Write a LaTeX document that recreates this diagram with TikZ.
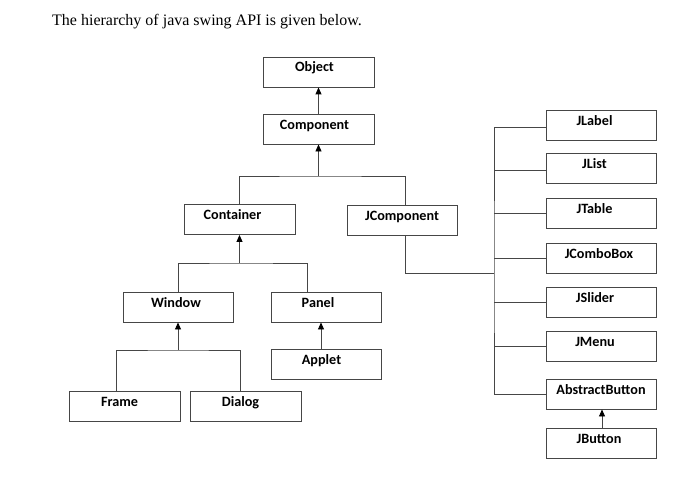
\documentclass[tikz,border=0pt]{standalone}
\usepackage{fontspec}
\setmainfont{Liberation Serif}
\newfontfamily\boxfont{Carlito}
\usetikzlibrary{arrows.meta}
\definecolor{lc}{RGB}{70,70,70}
\newcommand\lft[2]{#2\hspace*{#1pt}}
\begin{document}
\begin{tikzpicture}[x=1pt,y=-1pt,
  box/.style={draw=lc,line width=0.9pt,minimum width=111pt,minimum height=30pt,
    inner sep=0pt,text height=8pt,text depth=8pt,font=\boxfont\bfseries\fontsize{14.2}{16}\selectfont},
  conn/.style={draw=lc,line width=0.9pt},
  arr/.style={conn,-{Triangle[length=7pt,width=6pt,fill=black,color=black]}}]
\useasboundingbox (0,0) rectangle (684,492);
\node[anchor=base west,font=\fontsize{16}{18}\selectfont,inner sep=0pt] (title) at (52,26) {The hierarchy of java swing API is given below.};
% left tree
\node[box] (obj) at (318.5,72) {\lft{8}{Object}};
\node[box] (comp) at (318.5,129) {\lft{8}{Component}};
\node[box] (cont) at (239.5,219.5) {\lft{14}{Container}};
\node[box,minimum width=110pt] (jcomp) at (402,220) {JComponent};
\node[box,minimum width=110pt] (win) at (178,307) {Window\hspace*{4pt}};
\node[box,minimum width=110pt] (pan) at (326,307) {\lft{16}{Panel}};
\node[box,minimum width=110pt] (app) at (326,364.5) {\lft{9}{Applet}};
\node[box] (frame) at (124.5,406) {\lft{10}{Frame}};
\node[box] (dialog) at (245.5,406) {\lft{10}{Dialog}};
% right column
\node[box,minimum width=110pt] (jlabel) at (601,125) {\lft{13}{JLabel}};
\node[box,minimum width=110pt] (jlist) at (601,168) {\lft{13}{JList}};
\node[box,minimum width=110pt] (jtable) at (601,213) {\lft{13}{JTable}};
\node[box,minimum width=110pt] (jcombo) at (601,258) {\lft{4}{JComboBox}};
\node[box,minimum width=110pt] (jslider) at (601,302) {\lft{12}{JSlider}};
\node[box,minimum width=110pt] (jmenu) at (601,346.5) {\lft{12}{JMenu}};
\node[box,minimum width=110pt] (abs) at (601,394) {AbstractButton};
\node[box,minimum width=110pt] (jbutton) at (601,443.5) {\lft{4}{JButton}};
% junctions
\coordinate (b1) at (318.5,176);
\coordinate (b2) at (239.5,263);
\coordinate (b3) at (178,350);
\coordinate (jj) at (494,273);
% connectors
\draw[conn] (cont.north) |- (b1) -| ([xshift=3pt]jcomp.north);
\draw[arr] (b1) -- (comp.south);
\draw[arr] (comp.north) -- (obj.south);
\draw[conn] (win.north) |- (b2) -| ([xshift=-19pt]pan.north);
\draw[arr] (b2) -- (cont.south);
\draw[conn] ([xshift=-8.5pt]frame.north) |- (b3) -| ([xshift=-5.5pt]dialog.north);
\draw[arr] (b3) -- (win.south);
\draw[arr] ([xshift=-5pt]app.north) -- ([xshift=-5pt]pan.south);
\draw[conn] ([xshift=3pt]jcomp.south) |- (jj);
\draw[conn] ([yshift=-2pt]jlabel.west) -| (jj) |- (abs.west);
\draw[conn] ([yshift=-2pt]jlist.west) -- ++(-52,0);
\draw[conn] (jtable.west) -- ++(-52,0);
\draw[conn] (jcombo.west) -- ++(-52,0);
\draw[conn] (jslider.west) -- ++(-52,0);
\draw[conn] (jmenu.west) -- ++(-52,0);
\draw[arr] ([xshift=1pt]jbutton.north) -- ([xshift=1pt]abs.south);
\end{tikzpicture}
\end{document}
